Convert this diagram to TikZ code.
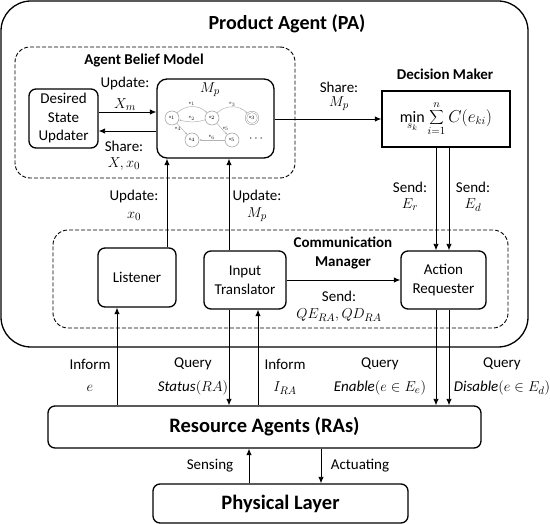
\documentclass[tikz,border=0pt]{standalone}
\usepackage{fontspec}
\setmainfont{Carlito}
\usetikzlibrary{arrows.meta}
\tikzset{
 lbl/.style={font=\fontsize{15}{17}\selectfont, inner sep=0pt, align=center},
 ttl/.style={font=\bfseries\fontsize{15}{19}\selectfont, inner sep=0pt, align=center},
 blk/.style={draw, line width=1.3pt, rounded corners=7pt, align=center, font=\fontsize{15}{18.5}\selectfont, inner sep=0pt},
 dbox/.style={draw, line width=0.9pt, dash pattern=on 4pt off 2pt, rounded corners=15pt, inner sep=0pt},
 arr/.style={line width=0.9pt, -{Latex[length=6.5pt,width=5.5pt]}},
 st/.style={draw=gray!80, circle, minimum size=14pt, inner sep=0pt, line width=0.5pt, font=\fontsize{4.5}{4.5}\selectfont},
 ed/.style={draw=gray!60, line width=0.5pt, -{Latex[length=2pt,width=2pt]}},
 el/.style={font=\fontsize{4.5}{4.5}\selectfont, inner sep=0.5pt, text=black!80},
}
\begin{document}
\begin{tikzpicture}[x=1pt,y=-1pt]
\useasboundingbox (0,0) rectangle (550,524);
% outer
\node[draw, line width=1.3pt, rounded corners=30pt, minimum width=527pt, minimum height=346pt, inner sep=0pt] (pa) at (264.5,174) {};
\node[font=\bfseries\fontsize{20}{24}\selectfont, inner sep=0pt] (patitle) at (287,24) {Product Agent (PA)};
% dashed groups
\node[dbox, minimum width=280pt, minimum height=131pt] (abm) at (155,112.5) {};
\node[ttl] (abmt) at (144,61) {Agent Belief Model};
\node[dbox, minimum width=455pt, minimum height=98pt] (cm) at (280.5,279) {};
\node[ttl] (cmt) at (343,252.5) {Communication\\Manager};
% blocks
\node[blk, minimum width=69pt, minimum height=59pt] (dsu) at (63.5,118.5) {Desired\\State\\Updater};
\node[blk, rounded corners=10pt, minimum width=117pt, minimum height=79pt] (mp) at (215.5,118.5) {};
\node[draw, line width=1.3pt, minimum width=128pt, minimum height=56pt, inner sep=0pt] (dm) at (446,119) {\fontsize{16}{18}\selectfont$\displaystyle\min_{s_k}\sum_{i=1}^{n}C(e_{ki})$};
\node[ttl] (dmt) at (445,74) {Decision Maker};
\node[blk, minimum width=78pt, minimum height=59pt] (lis) at (137,277.5) {Listener};
\node[blk, minimum width=82pt, minimum height=58pt] (it) at (245,280) {Input\\Translator};
\node[blk, minimum width=85pt, minimum height=58pt] (ar) at (443.5,280) {Action\\Requester};
\node[blk, minimum width=433pt, minimum height=42pt, font=\bfseries\fontsize{20.5}{24}\selectfont] (ra) at (264.5,427) {Resource Agents (RAs)};
\node[blk, minimum width=255pt, minimum height=39pt, font=\bfseries\fontsize{20.5}{24}\selectfont] (pl) at (280.5,503.5) {Physical Layer};
% graph inside M_p
\node[inner sep=0pt] (mpl) at (210,90) {\fontsize{15}{17}\selectfont$M_p$};
\node[st] (x1) at (172,118) {x$_1$};
\node[st] (x2) at (212,118) {x$_2$};
\node[st, double, double distance=1pt, minimum size=12pt] (x3) at (252,118) {x$_3$};
\node[st] (x4) at (192,140) {x$_4$};
\node[st] (x5) at (232,140) {x$_5$};
\node[inner sep=0pt, font=\fontsize{12}{12}\selectfont] (dots) at (256,139) {$\cdots$};
\draw[ed] (x1) to[bend left=45] node[el, above]{e$_1$} (x2);
\draw[ed] (x2) to[bend left=15] node[el, above, yshift=1pt]{e$_2$} (x1);
\draw[ed] (x2) to[bend left=45] node[el, above]{e$_3$} (x3);
\draw[ed] (x1) -- node[el, left]{e$_4$} (x4);
\draw[ed] (x2) -- node[el, right]{e$_5$} (x5);
\draw[ed] (x5) -- node[el, above]{e$_6$} (x4);
% helper coordinates
\coordinate (cA) at (167,0);
\coordinate (cB) at (229,0);
\coordinate (cC) at (258,0);
\coordinate (cD) at (117,0);
\coordinate (cE) at (436,0);
\coordinate (cF) at (449,0);
\coordinate (cG) at (249,0);
\coordinate (cH) at (321,0);
\coordinate (r1) at (0,112);
\coordinate (r2) at (0,131);
\coordinate (r3) at (0,119);
\coordinate (r4) at (0,280);
% connectors
\draw[arr] (dsu.east |- r1) -- (mp.west |- r1);
\draw[arr] (mp.west |- r2) -- (dsu.east |- r2);
\draw[arr] (mp.east |- r3) -- (dm.west |- r3);
\draw[arr] (it.east |- r4) -- (ar.west |- r4);
\draw[arr] (lis.north -| cA) -- (mp.south -| cA);
\draw[arr] (it.north -| cB) -- (mp.south -| cB);
\draw[arr] (ra.north -| cD) -- (lis.south -| cD);
\draw[arr] (it.south -| cB) -- (ra.north -| cB);
\draw[arr] (ra.north -| cC) -- (it.south -| cC);
\draw[arr] (dm.south -| cE) -- (ar.north -| cE);
\draw[arr] (dm.south -| cF) -- (ar.north -| cF);
\draw[arr] (ar.south -| cE) -- (ra.north -| cE);
\draw[arr] (ar.south -| cF) -- (ra.north -| cF);
\draw[arr] (pl.north -| cG) -- (ra.south -| cG);
\draw[arr] (ra.south -| cH) -- (pl.north -| cH);
% labels
\node[lbl] (l1) at (125,84) {Update:};
\node[lbl] (l1m) at (125,105) {$X_m$};
\node[lbl] (l2) at (124,146) {Share:};
\node[lbl] (l2m) at (124,164) {$X, x_0$};
\node[lbl] (l3) at (339,87) {Share:};
\node[lbl] (l3m) at (339,104) {$M_p$};
\node[lbl] (l4) at (134,197) {Update:};
\node[lbl] (l4m) at (134,216) {$x_0$};
\node[lbl] (l5) at (257,197) {Update:};
\node[lbl] (l5m) at (257,215) {$M_p$};
\node[lbl] (l6) at (410,187) {Send:};
\node[lbl] (l6m) at (410,205) {$E_r$};
\node[lbl] (l7) at (473,187) {Send:};
\node[lbl] (l7m) at (473,205) {$E_d$};
\node[lbl] (l8) at (339,296) {Send:};
\node[lbl] (l8m) at (339,315) {$QE_{RA}, QD_{RA}$};
\node[lbl] (b1) at (90,364) {Inform};
\node[lbl] (b1m) at (90,388) {$e$};
\node[lbl] (b2) at (193,364) {Query};
\node[lbl] (b2m) at (193,388) {\itshape Status\/$(RA)$};
\node[lbl] (b3) at (285,364) {Inform};
\node[lbl] (b3m) at (285,388) {$I_{RA}$};
\node[lbl] (b4) at (380,364) {Query};
\node[lbl] (b4m) at (380,388) {\itshape Enable\/$(e\in E_e)$};
\node[lbl] (b5) at (502,364) {Query};
\node[lbl] (b5m) at (502,388) {\itshape Disable\/$(e\in E_d)$};
\node[lbl] (s1) at (210,466) {Sensing};
\node[lbl] (s2) at (360,466) {Actuating};
\end{tikzpicture}
\end{document}
